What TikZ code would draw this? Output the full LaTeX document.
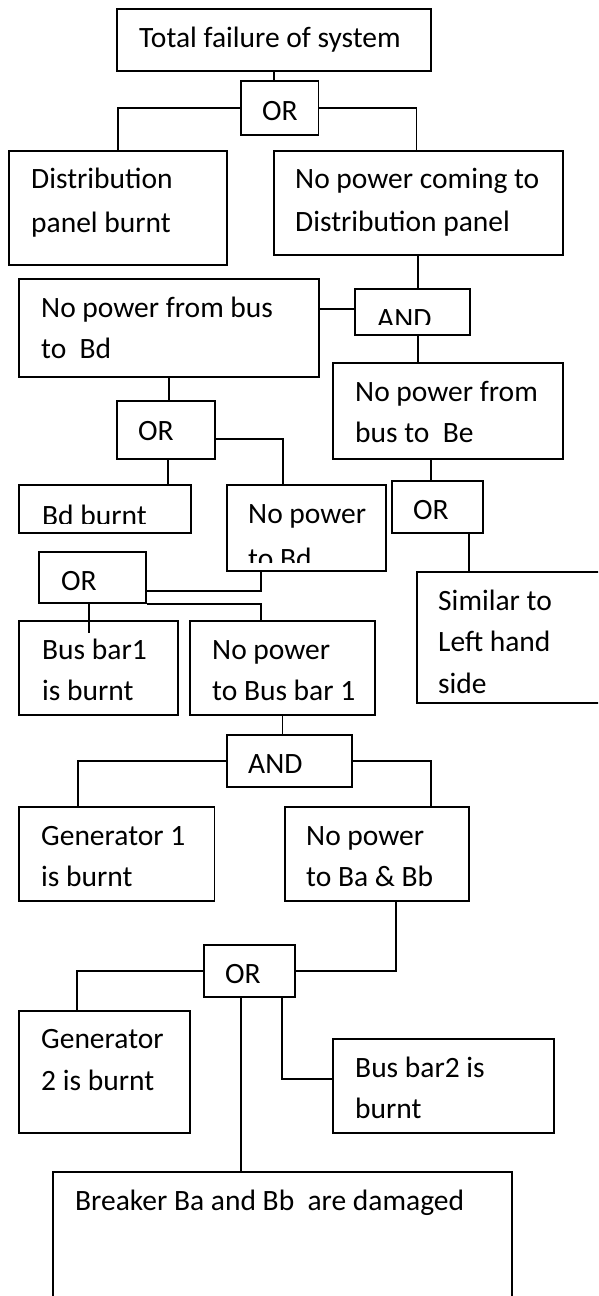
\documentclass[tikz,border=0pt]{standalone}
\usepackage{fontspec}
\setmainfont{Carlito}
\usetikzlibrary{fit}
\newcommand\ml[1]{\begin{tabular}[t]{@{}l@{}}#1\end{tabular}}
\tikzset{
  box/.style={draw=black, line width=1.9pt, rectangle, inner sep=0pt},
  lbl/.style={anchor=base west, inner sep=0pt, font=\fontsize{29.5pt}{41.5pt}\selectfont},
  wire/.style={draw=black, line width=1.9pt}
}
\begin{document}
\begin{tikzpicture}[x=1pt,y=-1pt]
\useasboundingbox (0,0) rectangle (598,1296);
\clip (0,0) rectangle (598,1296);
% boxes
\node[box, fit={(117,9)(431,71)}] (top) {};
\node[box, fit={(241,81)(318.5,135)}] (or1) {};
\node[box, fit={(9,151)(227,265)}] (dist) {};
\node[box, fit={(274,151)(563,255)}] (nopow) {};
\node[box, fit={(355,289)(470,335)}] (and1) {};
\node[box, fit={(19,279)(319,377)}] (bd) {};
\node[box, fit={(333,363)(563,459)}] (be) {};
\node[box, fit={(117,401)(215,459)}] (or2) {};
\node[box, fit={(19,485)(191,533)}] (bdb) {};
\node[box, fit={(227,485)(386,571)}] (nptbd) {};
\node[box, fit={(392,481)(483,533)}] (or3) {};
\node[box, fit={(417,572)(620,703)}] (sim) {};
\node[box, fit={(39,552)(146,603)}] (or4) {};
\node[box, fit={(19,621)(178,715)}] (bb1) {};
\node[box, fit={(190,621)(375,715)}] (npbb1) {};
\node[box, fit={(227,735)(352,787)}] (and2) {};
\node[box, fit={(19,807)(214.5,901)}] (gen1) {};
\node[box, fit={(285,807)(469,901)}] (babb) {};
\node[box, fit={(204,945)(295,997)}] (or5) {};
\node[box, fit={(19,1011)(190,1133)}] (gen2) {};
\node[box, fit={(333,1039)(554,1133)}] (bb2) {};
\node[box, fit={(53,1172)(512,1300)}] (brk) {};
% texts
\node[lbl] (ttop) at (139,47) {Total failure of system};
\node[lbl] (tor1) at (262,120) {OR};
\node[lbl] (tdist) at (31,188) {\ml{Distribution\\[2.5pt]panel burnt}};
\node[lbl] (tnopow) at (295,188) {\ml{No power coming to\\[1.5pt]Distribution panel}};
\begin{scope}
  \clip (355,289) rectangle (470,324);
  \node[lbl] (tand1) at (377,328) {AND};
\end{scope}
\node[lbl] (tbd) at (41,317) {\ml{No power from bus\\to~ Bd}};
\node[lbl] (tbe) at (355,401) {\ml{No power from\\bus to~ Be}};
\node[lbl] (tor2) at (138,440) {OR};
\begin{scope}
  \clip (19,485) rectangle (191,523);
  \node[lbl] (tbdb) at (42,525) {Bd burnt};
\end{scope}
\begin{scope}
  \clip (227,485) rectangle (386,562);
  \node[lbl] (tnptbd) at (248,523) {\ml{No power\\[3.5pt]to Bd}};
\end{scope}
\node[lbl] (tor3) at (413,519) {OR};
\node[lbl] (tor4) at (61,590) {OR};
\node[lbl] (tsim) at (438,610) {\ml{Similar to\\Left hand\\side}};
\node[lbl] (tbb1) at (42,659) {\ml{Bus bar1\\is burnt}};
\node[lbl] (tnpbb1) at (212,659) {\ml{No power\\to Bus bar 1}};
\node[lbl] (tand2) at (248,773) {AND};
\node[lbl] (tgen1) at (41,845) {\ml{Generator 1\\is burnt}};
\node[lbl] (tbabb) at (306,845) {\ml{No power\\to Ba \& Bb}};
\node[lbl] (tor5) at (225,983) {OR};
\node[lbl] (tgen2) at (41,1048) {\ml{Generator\\[1pt]2 is burnt}};
\node[lbl] (tbb2) at (355,1077) {\ml{Bus bar2 is\\burnt}};
\node[lbl] (tbrk) at (75,1210) {Breaker Ba and Bb~ are damaged};
% connectors
\draw[wire] (top.south) -- (top.south |- or1.north);
\draw[wire] (or1.west) -| (dist.north);
\draw[wire] (or1.east) -| (416.5,0 |- nopow.north);
\draw[wire] (418,0 |- nopow.south) -- (418,0 |- and1.north);
\draw[wire] (bd.east |- 0,309) -- (and1.west |- 0,309);
\draw[wire] (418,0 |- and1.south) -- (418,0 |- be.north);
\draw[wire] (bd.south) -- (bd.south |- or2.north);
\draw[wire] (168,0 |- or2.south) -- (168,0 |- bdb.north);
\draw[wire] (or2.east |- 0,439) -| (283,0 |- nptbd.north);
\draw[wire] (431,0 |- be.south) -- (431,0 |- or3.north);
\draw[wire] (469,0 |- or3.south) -- (469,0 |- sim.north);
\draw[wire] (261,0 |- nptbd.south) |- (or4.east |- 0,591);
\draw[wire] (or4.south east) -| (261,0 |- npbb1.north);
\draw[wire] (89,0 |- or4.south) -- (89,633);
\draw[wire] (npbb1.south) -- (npbb1.south |- and2.north);
\draw[wire] (and2.west) -| (78,0 |- gen1.north);
\draw[wire] (and2.east) -| (431,0 |- babb.north);
\draw[wire] (396,0 |- babb.south) |- (or5.east);
\draw[wire] (or5.west) -| (77,0 |- gen2.north);
\draw[wire] (241,0 |- or5.south) -- (241,0 |- brk.north);
\draw[wire] (282,0 |- or5.south) |- (bb2.west |- 0,1079);
\end{tikzpicture}
\end{document}
